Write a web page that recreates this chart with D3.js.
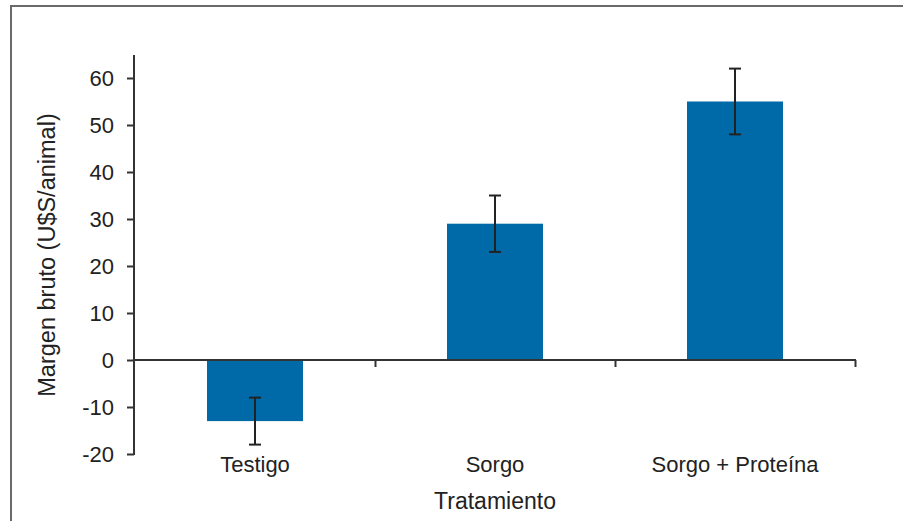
<!DOCTYPE html>
<html><head><meta charset="utf-8">
<script src="https://cdn.jsdelivr.net/npm/d3@7"></script>
<style>
html,body{margin:0;padding:0;background:#fff;}
text{font-family:"Liberation Sans",Arial,sans-serif;fill:#222;}
</style></head>
<body><svg id="c" width="903" height="521"></svg>
<script>
const categories = ["Testigo", "Sorgo", "Sorgo + Proteína"];
const values = [-13, 29, 55];
const errors = [5, 6, 7];
const yTicks = [-20, -10, 0, 10, 20, 30, 40, 50, 60];
const yLabel = "Margen bruto (U$S/animal)";
const xLabel = "Tratamiento";

const svg = d3.select("#c");
// frame
svg.append("path").attr("d","M11,521 V6 H903").attr("fill","none").attr("stroke","#6a6a6a").attr("stroke-width",2);

const x = d3.scaleBand().domain(categories).range([135, 855]).paddingInner(0.6).paddingOuter(0.3);
const y = d3.scaleLinear().domain([-20, 60]).range([454, 78]);

// bars
svg.selectAll("rect.bar").data(values).enter().append("rect")
  .attr("x", (d,i)=>x(categories[i]))
  .attr("width", x.bandwidth())
  .attr("y", d=>y(Math.max(0,d)))
  .attr("height", d=>Math.abs(y(d)-y(0)))
  .attr("fill","#006aa9");

// error bars
const eg = svg.append("g").attr("stroke","#222").attr("stroke-width",2);
values.forEach((v,i)=>{
  const cx = x(categories[i]) + x.bandwidth()/2;
  eg.append("line").attr("x1",cx).attr("x2",cx).attr("y1",y(v+errors[i])).attr("y2",y(v-errors[i]));
  [v+errors[i], v-errors[i]].forEach(e=>{
    eg.append("line").attr("x1",cx-6).attr("x2",cx+6).attr("y1",y(e)).attr("y2",y(e));
  });
});

// y axis
const yAxis = svg.append("g").attr("transform","translate(134,0)")
  .call(d3.axisLeft(y).tickValues(yTicks).tickSize(7).tickPadding(13).tickFormat(d=>String(d)));
yAxis.select(".domain").remove();
yAxis.append("line").attr("x1",0).attr("x2",0).attr("y1",55).attr("y2",455).attr("stroke","#333").attr("stroke-width",2);
yAxis.selectAll(".tick line").attr("stroke","#333").attr("stroke-width",2);
yAxis.selectAll(".tick text").style("font-size","22px").attr("fill","#222").style("font-family","Liberation Sans, Arial, sans-serif");

// x axis at zero
const xb = d3.scaleLinear().domain([0,3]).range([135,855]);
const xAxis = svg.append("g").attr("transform",`translate(0,${y(0)})`)
  .call(d3.axisBottom(xb).tickValues([1,2,3]).tickSize(7).tickFormat(""));
xAxis.select(".domain").remove();
xAxis.append("line").attr("x1",134).attr("x2",856).attr("stroke","#333").attr("stroke-width",2);
xAxis.selectAll(".tick line").attr("stroke","#333").attr("stroke-width",2);

// category labels
svg.selectAll("text.cat").data(categories).enter().append("text")
  .attr("class","cat")
  .attr("x", d=>x(d)+x.bandwidth()/2)
  .attr("y", 472)
  .attr("text-anchor","middle")
  .style("font-size","22px")
  .text(d=>d);

svg.append("text").attr("x",495).attr("y",509).attr("text-anchor","middle").style("font-size","23px").text(xLabel);
svg.append("text").attr("transform","translate(55,255) rotate(-90)").attr("text-anchor","middle").style("font-size","23.5px").text(yLabel);
</script></body></html>
